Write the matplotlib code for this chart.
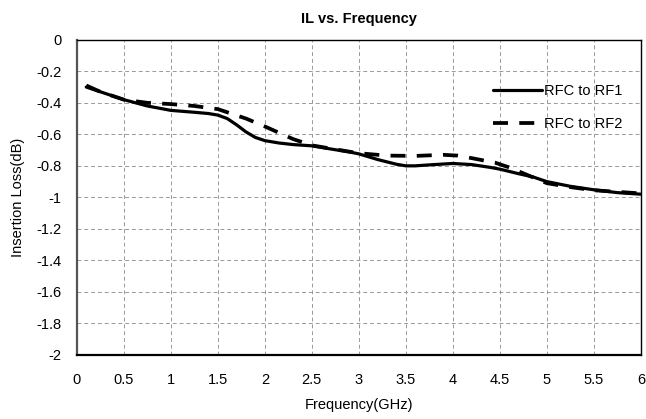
import matplotlib
matplotlib.use("Agg")
import matplotlib.pyplot as plt

plt.rcParams["font.family"] = ["Liberation Sans", "DejaVu Sans"]

# RFC to RF1 (solid)
freq1 = [0.1, 0.25, 0.5, 0.75, 1.0, 1.25, 1.4, 1.5, 1.6, 1.7, 1.8, 1.9, 2.0, 2.15,
         2.3, 2.5, 2.7, 2.9, 3.0, 3.2, 3.4, 3.5, 3.6, 3.8, 4.0, 4.2, 4.4, 4.5,
         4.7, 4.85, 5.0, 5.25, 5.5, 5.75, 6.0]
rf1 = [-0.30, -0.33, -0.38, -0.42, -0.448, -0.46, -0.468, -0.478, -0.50, -0.54,
       -0.585, -0.62, -0.64, -0.655, -0.665, -0.673, -0.693, -0.712, -0.724, -0.76,
       -0.79, -0.80, -0.80, -0.792, -0.785, -0.792, -0.81, -0.821, -0.85, -0.87,
       -0.90, -0.93, -0.952, -0.97, -0.98]

# RFC to RF2 (dashed)
freq2 = [0.1, 0.25, 0.5, 0.75, 1.0, 1.25, 1.5, 1.65, 1.8, 2.0, 2.15, 2.3, 2.5,
         2.7, 3.0, 3.3, 3.6, 3.9, 4.05, 4.2, 4.45, 4.6, 4.8, 5.0, 5.25, 5.5,
         5.75, 6.0]
rf2 = [-0.29, -0.33, -0.38, -0.40, -0.408, -0.42, -0.44, -0.47, -0.50, -0.55,
       -0.59, -0.63, -0.67, -0.69, -0.72, -0.735, -0.737, -0.73, -0.735, -0.751,
       -0.78, -0.81, -0.86, -0.91, -0.935, -0.955, -0.965, -0.975]

xticks = [0, 0.5, 1, 1.5, 2, 2.5, 3, 3.5, 4, 4.5, 5, 5.5, 6]
xlabels = ["0", "0.5", "1", "1.5", "2", "2.5", "3", "3.5", "4", "4.5", "5", "5.5", "6"]
yticks = [0, -0.2, -0.4, -0.6, -0.8, -1, -1.2, -1.4, -1.6, -1.8, -2]
ylabels = ["0", "-0.2", "-0.4", "-0.6", "-0.8", "-1", "-1.2", "-1.4", "-1.6", "-1.8", "-2"]

fig = plt.figure(figsize=(6.46, 4.19), dpi=100)
ax = fig.add_axes([0.119, 0.153, 0.873, 0.752])

ax.plot(freq1, rf1, color="black", lw=2.3, label="RFC to RF1", solid_capstyle="round")
ax.plot(freq2, rf2, color="black", lw=2.7, ls=(0, (4, 3)), label="RFC to RF2")

ax.set_xlim(0, 6)
ax.set_ylim(-2, 0)
ax.set_xticks(xticks)
ax.set_xticklabels(xlabels)
ax.set_yticks(yticks)
ax.set_yticklabels(ylabels)
ax.tick_params(length=0, labelsize=10.5)
ax.tick_params(axis="x", pad=13)
ax.tick_params(axis="y", pad=11)
ax.grid(True, color="#999999", ls=(0, (4, 3)), lw=0.7)

for s in ax.spines.values():
    s.set_color("black")
    s.set_linewidth(1.0)
ax.spines["left"].set_color("#555555")
ax.spines["left"].set_linewidth(1.6)
ax.spines["bottom"].set_linewidth(1.6)

ax.set_xlabel("Frequency(GHz)", fontsize=10.5, labelpad=8)
ax.set_ylabel("Insertion Loss(dB)", fontsize=10.5, labelpad=8)
ax.set_title("IL vs. Frequency", fontsize=10.5, fontweight="bold", pad=12)

ax.legend(loc="upper right", bbox_to_anchor=(0.99, 0.9), frameon=False, fontsize=10.5,
          handlelength=3.4, handletextpad=0.1, labelspacing=1.3)

fig.savefig("out.png", dpi=100)
